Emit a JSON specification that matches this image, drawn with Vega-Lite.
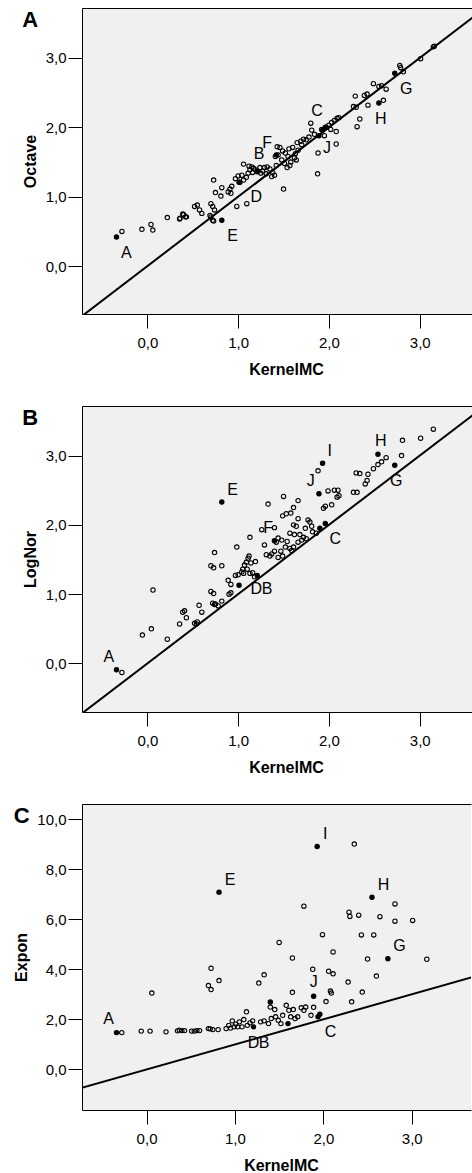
{
  "$schema": "https://vega.github.io/schema/vega-lite/v6.json",
  "padding": {"left": 13, "top": 8, "right": 0, "bottom": 0},
  "config": {
    "font": "Liberation Sans",
    "view": {"fill": "#f0f0f0", "stroke": null},
    "axis": {
      "grid": false,
      "domainColor": "#000000",
      "domainWidth": 1,
      "tickColor": "#000000",
      "tickWidth": 1,
      "tickSize": 14,
      "labelFont": "Liberation Sans",
      "labelFontSize": 15,
      "labelColor": "#000000",
      "titleFont": "Liberation Sans",
      "titleFontSize": 16,
      "titleFontWeight": "bold",
      "titleColor": "#000000",
      "labelExpr": "replace(format(datum.value, '.1f'), '.', ',')"
    },
    "title": {
      "anchor": "start",
      "frame": "bounds",
      "baseline": "top",
      "offset": -24,
      "fontSize": 22,
      "fontWeight": "bold",
      "font": "Liberation Sans",
      "color": "#000000"
    }
  },
  "datasets": {
    "diag": [{"k": -1.5, "v": -1.5}, {"k": 4.5, "v": 4.5}],
    "a": [
      {"k": -0.28, "v": 0.50, "kind": "O"}, {"k": -0.06, "v": 0.53, "kind": "O"}, {"k": 0.04, "v": 0.60, "kind": "O"},
      {"k": 0.06, "v": 0.52, "kind": "O"}, {"k": 0.22, "v": 0.70, "kind": "O"}, {"k": 0.355, "v": 0.68, "kind": "O"},
      {"k": 0.36, "v": 0.69, "kind": "O"}, {"k": 0.39, "v": 0.75, "kind": "O"}, {"k": 0.40, "v": 0.74, "kind": "O"},
      {"k": 0.42, "v": 0.71, "kind": "O"}, {"k": 0.43, "v": 0.71, "kind": "O"}, {"k": 0.52, "v": 0.86, "kind": "O"},
      {"k": 0.55, "v": 0.88, "kind": "O"}, {"k": 0.575, "v": 0.81, "kind": "O"}, {"k": 0.60, "v": 0.76, "kind": "O"},
      {"k": 0.70, "v": 0.90, "kind": "O"}, {"k": 0.72, "v": 0.86, "kind": "O"}, {"k": 0.74, "v": 0.81, "kind": "O"},
      {"k": 0.69, "v": 0.73, "kind": "O"}, {"k": 0.70, "v": 0.71, "kind": "O"}, {"k": 0.72, "v": 0.66, "kind": "O"},
      {"k": 0.73, "v": 0.65, "kind": "O"}, {"k": 0.73, "v": 1.24, "kind": "O"}, {"k": 0.75, "v": 1.06, "kind": "O"},
      {"k": 0.82, "v": 1.13, "kind": "O"}, {"k": 0.81, "v": 1.01, "kind": "O"}, {"k": 0.89, "v": 1.07, "kind": "O"},
      {"k": 0.91, "v": 1.11, "kind": "O"}, {"k": 0.93, "v": 1.15, "kind": "O"}, {"k": 0.92, "v": 1.05, "kind": "O"},
      {"k": 0.985, "v": 0.86, "kind": "O"}, {"k": 1.095, "v": 0.90, "kind": "O"}, {"k": 0.97, "v": 1.26, "kind": "O"},
      {"k": 1.00, "v": 1.30, "kind": "O"}, {"k": 1.04, "v": 1.31, "kind": "O"}, {"k": 1.06, "v": 1.47, "kind": "O"},
      {"k": 1.02, "v": 1.21, "kind": "O"}, {"k": 1.06, "v": 1.24, "kind": "O"}, {"k": 1.09, "v": 1.28, "kind": "O"},
      {"k": 1.11, "v": 1.34, "kind": "O"}, {"k": 1.13, "v": 1.39, "kind": "O"}, {"k": 1.12, "v": 1.44, "kind": "O"},
      {"k": 1.15, "v": 1.43, "kind": "O"}, {"k": 1.17, "v": 1.41, "kind": "O"}, {"k": 1.19, "v": 1.39, "kind": "O"},
      {"k": 1.21, "v": 1.36, "kind": "O"}, {"k": 1.16, "v": 1.35, "kind": "O"}, {"k": 1.24, "v": 1.42, "kind": "O"},
      {"k": 1.27, "v": 1.37, "kind": "O"}, {"k": 1.29, "v": 1.42, "kind": "O"}, {"k": 1.32, "v": 1.43, "kind": "O"},
      {"k": 1.35, "v": 1.40, "kind": "O"}, {"k": 1.38, "v": 1.35, "kind": "O"}, {"k": 1.40, "v": 1.31, "kind": "O"},
      {"k": 1.37, "v": 1.29, "kind": "O"}, {"k": 1.31, "v": 1.33, "kind": "O"}, {"k": 1.25, "v": 1.34, "kind": "O"},
      {"k": 1.42, "v": 1.45, "kind": "O"}, {"k": 1.50, "v": 1.11, "kind": "O"}, {"k": 1.43, "v": 1.72, "kind": "O"},
      {"k": 1.46, "v": 1.71, "kind": "O"}, {"k": 1.49, "v": 1.66, "kind": "O"}, {"k": 1.44, "v": 1.60, "kind": "O"},
      {"k": 1.52, "v": 1.63, "kind": "O"}, {"k": 1.56, "v": 1.69, "kind": "O"}, {"k": 1.60, "v": 1.71, "kind": "O"},
      {"k": 1.55, "v": 1.58, "kind": "O"}, {"k": 1.62, "v": 1.56, "kind": "O"}, {"k": 1.58, "v": 1.50, "kind": "O"},
      {"k": 1.64, "v": 1.53, "kind": "O"}, {"k": 1.54, "v": 1.42, "kind": "O"}, {"k": 1.57, "v": 1.45, "kind": "O"},
      {"k": 1.48, "v": 1.53, "kind": "O"}, {"k": 1.41, "v": 1.58, "kind": "O"}, {"k": 1.51, "v": 1.48, "kind": "O"},
      {"k": 1.66, "v": 1.67, "kind": "O"}, {"k": 1.63, "v": 1.62, "kind": "O"}, {"k": 1.65, "v": 1.78, "kind": "O"},
      {"k": 1.69, "v": 1.80, "kind": "O"}, {"k": 1.72, "v": 1.83, "kind": "O"}, {"k": 1.75, "v": 1.82, "kind": "O"},
      {"k": 1.78, "v": 1.86, "kind": "O"}, {"k": 1.70, "v": 1.75, "kind": "O"}, {"k": 1.84, "v": 1.90, "kind": "O"},
      {"k": 1.92, "v": 1.97, "kind": "O"}, {"k": 1.97, "v": 2.00, "kind": "O"}, {"k": 2.00, "v": 2.03, "kind": "O"},
      {"k": 2.03, "v": 2.07, "kind": "O"}, {"k": 2.06, "v": 2.10, "kind": "O"}, {"k": 2.09, "v": 2.13, "kind": "O"},
      {"k": 2.11, "v": 2.14, "kind": "O"}, {"k": 2.02, "v": 1.97, "kind": "O"}, {"k": 1.95, "v": 1.88, "kind": "O"},
      {"k": 1.875, "v": 1.33, "kind": "O"}, {"k": 1.88, "v": 1.63, "kind": "O"}, {"k": 1.80, "v": 2.06, "kind": "O"},
      {"k": 1.81, "v": 1.96, "kind": "O"}, {"k": 2.08, "v": 1.94, "kind": "O"}, {"k": 2.08, "v": 1.76, "kind": "O"},
      {"k": 2.29, "v": 2.45, "kind": "O"}, {"k": 2.27, "v": 2.30, "kind": "O"}, {"k": 2.30, "v": 2.29, "kind": "O"},
      {"k": 2.31, "v": 2.01, "kind": "O"}, {"k": 2.34, "v": 2.12, "kind": "O"}, {"k": 2.43, "v": 2.32, "kind": "O"},
      {"k": 2.39, "v": 2.46, "kind": "O"}, {"k": 2.42, "v": 2.48, "kind": "O"}, {"k": 2.49, "v": 2.63, "kind": "O"},
      {"k": 2.55, "v": 2.59, "kind": "O"}, {"k": 2.58, "v": 2.60, "kind": "O"}, {"k": 2.63, "v": 2.55, "kind": "O"},
      {"k": 2.60, "v": 2.39, "kind": "O"}, {"k": 2.78, "v": 2.89, "kind": "O"}, {"k": 2.79, "v": 2.86, "kind": "O"},
      {"k": 2.82, "v": 2.80, "kind": "O"}, {"k": 3.01, "v": 2.99, "kind": "O"}, {"k": 3.15, "v": 3.16, "kind": "O"},
      {"k": 3.16, "v": 3.17, "kind": "O"},
      {"k": -0.34, "v": 0.42, "kind": "L"}, {"k": 0.82, "v": 0.66, "kind": "L"}, {"k": 2.55, "v": 2.35, "kind": "L"},
      {"k": 2.725, "v": 2.78, "kind": "L"}, {"k": 1.01, "v": 1.21, "kind": "L"}, {"k": 1.21, "v": 1.37, "kind": "L"},
      {"k": 1.42, "v": 1.60, "kind": "L"}, {"k": 1.96, "v": 2.00, "kind": "L"}, {"k": 1.93, "v": 1.96, "kind": "L"},
      {"k": 1.89, "v": 1.88, "kind": "L"}
    ],
    "b": [
      {"k": -0.28, "v": -0.13, "kind": "O"}, {"k": -0.055, "v": 0.41, "kind": "O"}, {"k": 0.044, "v": 0.50, "kind": "O"},
      {"k": 0.062, "v": 1.06, "kind": "O"}, {"k": 0.22, "v": 0.35, "kind": "O"}, {"k": 0.355, "v": 0.57, "kind": "O"},
      {"k": 0.39, "v": 0.74, "kind": "O"}, {"k": 0.41, "v": 0.76, "kind": "O"}, {"k": 0.43, "v": 0.66, "kind": "O"},
      {"k": 0.52, "v": 0.58, "kind": "O"}, {"k": 0.55, "v": 0.60, "kind": "O"}, {"k": 0.54, "v": 0.57, "kind": "O"},
      {"k": 0.57, "v": 0.84, "kind": "O"}, {"k": 0.60, "v": 0.74, "kind": "O"}, {"k": 0.70, "v": 1.04, "kind": "O"},
      {"k": 0.73, "v": 1.01, "kind": "O"}, {"k": 0.70, "v": 1.41, "kind": "O"}, {"k": 0.73, "v": 1.38, "kind": "O"},
      {"k": 0.74, "v": 1.60, "kind": "O"}, {"k": 0.72, "v": 0.87, "kind": "O"}, {"k": 0.75, "v": 0.86, "kind": "O"},
      {"k": 0.78, "v": 0.83, "kind": "O"}, {"k": 0.82, "v": 0.90, "kind": "O"}, {"k": 0.74, "v": 0.85, "kind": "O"},
      {"k": 0.82, "v": 1.41, "kind": "O"}, {"k": 0.89, "v": 1.20, "kind": "O"}, {"k": 0.92, "v": 1.14, "kind": "O"},
      {"k": 0.90, "v": 1.00, "kind": "O"}, {"k": 0.92, "v": 1.02, "kind": "O"}, {"k": 0.985, "v": 1.68, "kind": "O"},
      {"k": 0.97, "v": 1.27, "kind": "O"}, {"k": 1.00, "v": 1.28, "kind": "O"}, {"k": 1.04, "v": 1.32, "kind": "O"},
      {"k": 1.05, "v": 1.36, "kind": "O"}, {"k": 1.07, "v": 1.42, "kind": "O"}, {"k": 1.09, "v": 1.46, "kind": "O"},
      {"k": 1.11, "v": 1.52, "kind": "O"}, {"k": 1.14, "v": 1.45, "kind": "O"}, {"k": 1.16, "v": 1.31, "kind": "O"},
      {"k": 1.18, "v": 1.25, "kind": "O"}, {"k": 1.13, "v": 1.30, "kind": "O"}, {"k": 1.06, "v": 1.30, "kind": "O"},
      {"k": 1.10, "v": 1.36, "kind": "O"}, {"k": 1.12, "v": 1.55, "kind": "O"}, {"k": 1.13, "v": 1.82, "kind": "O"},
      {"k": 1.19, "v": 1.47, "kind": "O"}, {"k": 1.29, "v": 1.71, "kind": "O"}, {"k": 1.26, "v": 1.93, "kind": "O"},
      {"k": 1.33, "v": 2.30, "kind": "O"}, {"k": 1.31, "v": 1.57, "kind": "O"}, {"k": 1.37, "v": 1.58, "kind": "O"},
      {"k": 1.40, "v": 1.62, "kind": "O"}, {"k": 1.44, "v": 1.53, "kind": "O"}, {"k": 1.49, "v": 1.55, "kind": "O"},
      {"k": 1.47, "v": 1.62, "kind": "O"}, {"k": 1.44, "v": 1.81, "kind": "O"}, {"k": 1.48, "v": 1.78, "kind": "O"},
      {"k": 1.54, "v": 1.76, "kind": "O"}, {"k": 1.52, "v": 1.68, "kind": "O"}, {"k": 1.57, "v": 1.66, "kind": "O"},
      {"k": 1.61, "v": 1.68, "kind": "O"}, {"k": 1.59, "v": 1.63, "kind": "O"}, {"k": 1.42, "v": 1.75, "kind": "O"},
      {"k": 1.35, "v": 1.55, "kind": "O"}, {"k": 1.40, "v": 1.96, "kind": "O"}, {"k": 1.50, "v": 2.41, "kind": "O"},
      {"k": 1.49, "v": 2.13, "kind": "O"}, {"k": 1.53, "v": 2.16, "kind": "O"}, {"k": 1.58, "v": 2.17, "kind": "O"},
      {"k": 1.61, "v": 2.25, "kind": "O"}, {"k": 1.66, "v": 2.35, "kind": "O"}, {"k": 1.61, "v": 2.00, "kind": "O"},
      {"k": 1.64, "v": 1.98, "kind": "O"}, {"k": 1.66, "v": 2.09, "kind": "O"}, {"k": 1.57, "v": 1.88, "kind": "O"},
      {"k": 1.62, "v": 1.86, "kind": "O"}, {"k": 1.68, "v": 1.86, "kind": "O"}, {"k": 1.72, "v": 1.82, "kind": "O"},
      {"k": 1.66, "v": 1.75, "kind": "O"}, {"k": 1.70, "v": 1.78, "kind": "O"}, {"k": 1.74, "v": 1.95, "kind": "O"},
      {"k": 1.77, "v": 2.07, "kind": "O"}, {"k": 1.79, "v": 2.04, "kind": "O"}, {"k": 1.81, "v": 1.98, "kind": "O"},
      {"k": 1.82, "v": 1.90, "kind": "O"}, {"k": 1.75, "v": 1.80, "kind": "O"}, {"k": 1.88, "v": 2.78, "kind": "O"},
      {"k": 1.94, "v": 2.24, "kind": "O"}, {"k": 1.96, "v": 2.27, "kind": "O"}, {"k": 1.99, "v": 2.49, "kind": "O"},
      {"k": 2.03, "v": 2.29, "kind": "O"}, {"k": 2.06, "v": 2.50, "kind": "O"}, {"k": 2.10, "v": 2.50, "kind": "O"},
      {"k": 2.09, "v": 2.40, "kind": "O"}, {"k": 2.11, "v": 2.42, "kind": "O"}, {"k": 1.86, "v": 1.88, "kind": "O"},
      {"k": 2.27, "v": 2.47, "kind": "O"}, {"k": 2.31, "v": 2.47, "kind": "O"}, {"k": 2.30, "v": 2.75, "kind": "O"},
      {"k": 2.34, "v": 2.74, "kind": "O"}, {"k": 2.40, "v": 2.59, "kind": "O"}, {"k": 2.42, "v": 2.64, "kind": "O"},
      {"k": 2.43, "v": 2.73, "kind": "O"}, {"k": 2.49, "v": 2.81, "kind": "O"}, {"k": 2.54, "v": 2.87, "kind": "O"},
      {"k": 2.58, "v": 2.91, "kind": "O"}, {"k": 2.63, "v": 2.97, "kind": "O"}, {"k": 2.80, "v": 3.00, "kind": "O"},
      {"k": 2.81, "v": 3.22, "kind": "O"}, {"k": 3.01, "v": 3.25, "kind": "O"}, {"k": 3.15, "v": 3.38, "kind": "O"},
      {"k": -0.34, "v": -0.09, "kind": "L"}, {"k": 0.82, "v": 2.33, "kind": "L"}, {"k": 1.01, "v": 1.13, "kind": "L"},
      {"k": 1.21, "v": 1.27, "kind": "L"}, {"k": 1.40, "v": 1.77, "kind": "L"}, {"k": 1.96, "v": 2.02, "kind": "L"},
      {"k": 1.90, "v": 1.95, "kind": "L"}, {"k": 1.93, "v": 2.89, "kind": "L"}, {"k": 1.89, "v": 2.45, "kind": "L"},
      {"k": 2.54, "v": 3.02, "kind": "L"}, {"k": 2.725, "v": 2.86, "kind": "L"}
    ],
    "c": [
      {"k": -0.28, "v": 1.47, "kind": "O"}, {"k": -0.06, "v": 1.53, "kind": "O"}, {"k": 0.04, "v": 1.53, "kind": "O"},
      {"k": 0.06, "v": 3.05, "kind": "O"}, {"k": 0.22, "v": 1.50, "kind": "O"}, {"k": 0.35, "v": 1.54, "kind": "O"},
      {"k": 0.37, "v": 1.57, "kind": "O"}, {"k": 0.40, "v": 1.55, "kind": "O"}, {"k": 0.43, "v": 1.55, "kind": "O"},
      {"k": 0.51, "v": 1.53, "kind": "O"}, {"k": 0.54, "v": 1.53, "kind": "O"}, {"k": 0.57, "v": 1.55, "kind": "O"},
      {"k": 0.60, "v": 1.55, "kind": "O"}, {"k": 0.70, "v": 3.35, "kind": "O"}, {"k": 0.73, "v": 3.19, "kind": "O"},
      {"k": 0.73, "v": 4.04, "kind": "O"}, {"k": 0.82, "v": 3.55, "kind": "O"}, {"k": 0.70, "v": 1.63, "kind": "O"},
      {"k": 0.72, "v": 1.62, "kind": "O"}, {"k": 0.75, "v": 1.59, "kind": "O"}, {"k": 0.81, "v": 1.59, "kind": "O"},
      {"k": 0.90, "v": 1.63, "kind": "O"}, {"k": 0.93, "v": 1.76, "kind": "O"}, {"k": 0.97, "v": 1.94, "kind": "O"},
      {"k": 0.99, "v": 1.70, "kind": "O"}, {"k": 1.01, "v": 1.81, "kind": "O"}, {"k": 1.05, "v": 1.90, "kind": "O"},
      {"k": 1.08, "v": 1.70, "kind": "O"}, {"k": 1.10, "v": 1.99, "kind": "O"}, {"k": 1.13, "v": 2.30, "kind": "O"},
      {"k": 1.14, "v": 1.76, "kind": "O"}, {"k": 1.17, "v": 1.86, "kind": "O"}, {"k": 1.20, "v": 1.94, "kind": "O"},
      {"k": 0.95, "v": 1.65, "kind": "O"}, {"k": 1.03, "v": 1.70, "kind": "O"}, {"k": 1.27, "v": 3.45, "kind": "O"},
      {"k": 1.33, "v": 3.78, "kind": "O"}, {"k": 1.29, "v": 1.90, "kind": "O"}, {"k": 1.33, "v": 1.94, "kind": "O"},
      {"k": 1.38, "v": 1.83, "kind": "O"}, {"k": 1.41, "v": 2.03, "kind": "O"}, {"k": 1.40, "v": 2.49, "kind": "O"},
      {"k": 1.45, "v": 2.39, "kind": "O"}, {"k": 1.46, "v": 2.10, "kind": "O"}, {"k": 1.49, "v": 1.96, "kind": "O"},
      {"k": 1.52, "v": 1.83, "kind": "O"}, {"k": 1.54, "v": 2.16, "kind": "O"}, {"k": 1.58, "v": 2.56, "kind": "O"},
      {"k": 1.61, "v": 2.36, "kind": "O"}, {"k": 1.63, "v": 2.10, "kind": "O"}, {"k": 1.66, "v": 2.39, "kind": "O"},
      {"k": 1.68, "v": 2.03, "kind": "O"}, {"k": 1.71, "v": 2.10, "kind": "O"}, {"k": 1.75, "v": 2.46, "kind": "O"},
      {"k": 1.78, "v": 2.36, "kind": "O"}, {"k": 1.80, "v": 2.49, "kind": "O"}, {"k": 1.86, "v": 2.16, "kind": "O"},
      {"k": 1.50, "v": 5.07, "kind": "O"}, {"k": 1.65, "v": 4.45, "kind": "O"}, {"k": 1.65, "v": 3.08, "kind": "O"},
      {"k": 1.78, "v": 6.52, "kind": "O"}, {"k": 1.88, "v": 4.00, "kind": "O"}, {"k": 1.89, "v": 2.48, "kind": "O"},
      {"k": 1.99, "v": 5.38, "kind": "O"}, {"k": 2.03, "v": 2.71, "kind": "O"}, {"k": 2.06, "v": 3.92, "kind": "O"},
      {"k": 2.11, "v": 3.82, "kind": "O"}, {"k": 2.11, "v": 4.69, "kind": "O"}, {"k": 2.08, "v": 3.13, "kind": "O"},
      {"k": 2.09, "v": 3.05, "kind": "O"}, {"k": 2.28, "v": 3.49, "kind": "O"}, {"k": 2.29, "v": 6.28, "kind": "O"},
      {"k": 2.30, "v": 6.11, "kind": "O"}, {"k": 2.35, "v": 9.00, "kind": "O"}, {"k": 2.40, "v": 6.16, "kind": "O"},
      {"k": 2.32, "v": 2.70, "kind": "O"}, {"k": 2.43, "v": 5.37, "kind": "O"}, {"k": 2.44, "v": 3.09, "kind": "O"},
      {"k": 2.50, "v": 4.41, "kind": "O"}, {"k": 2.57, "v": 5.37, "kind": "O"}, {"k": 2.60, "v": 3.73, "kind": "O"},
      {"k": 2.64, "v": 6.10, "kind": "O"}, {"k": 2.81, "v": 5.92, "kind": "O"}, {"k": 2.81, "v": 6.61, "kind": "O"},
      {"k": 3.01, "v": 5.95, "kind": "O"}, {"k": 3.17, "v": 4.40, "kind": "O"},
      {"k": -0.34, "v": 1.47, "kind": "L"}, {"k": 0.82, "v": 7.08, "kind": "L"}, {"k": 1.93, "v": 8.90, "kind": "L"},
      {"k": 2.55, "v": 6.88, "kind": "L"}, {"k": 2.73, "v": 4.42, "kind": "L"}, {"k": 1.89, "v": 2.92, "kind": "L"},
      {"k": 1.94, "v": 2.10, "kind": "L"}, {"k": 1.96, "v": 2.20, "kind": "L"}, {"k": 1.40, "v": 2.69, "kind": "L"},
      {"k": 1.21, "v": 1.70, "kind": "L"}, {"k": 1.60, "v": 1.83, "kind": "L"}
    ],
    "labs": [
      {"panel": "A", "label": "A", "k": -0.233, "v": 0.19}, {"panel": "A", "label": "E", "k": 0.94, "v": 0.43},
      {"panel": "A", "label": "D", "k": 1.20, "v": 1.00}, {"panel": "A", "label": "B", "k": 1.23, "v": 1.61},
      {"panel": "A", "label": "F", "k": 1.32, "v": 1.77}, {"panel": "A", "label": "C", "k": 1.87, "v": 2.23},
      {"panel": "A", "label": "J", "k": 1.98, "v": 1.70}, {"panel": "A", "label": "H", "k": 2.57, "v": 2.12},
      {"panel": "A", "label": "G", "k": 2.85, "v": 2.55},
      {"panel": "B", "label": "A", "k": -0.425, "v": 0.10}, {"panel": "B", "label": "E", "k": 0.94, "v": 2.51},
      {"panel": "B", "label": "I", "k": 2.01, "v": 3.07}, {"panel": "B", "label": "H", "k": 2.57, "v": 3.21},
      {"panel": "B", "label": "J", "k": 1.80, "v": 2.64}, {"panel": "B", "label": "F", "k": 1.33, "v": 1.96},
      {"panel": "B", "label": "C", "k": 2.07, "v": 1.79}, {"panel": "B", "label": "G", "k": 2.74, "v": 2.64},
      {"panel": "B", "label": "D", "k": 1.20, "v": 1.07}, {"panel": "B", "label": "B", "k": 1.32, "v": 1.07},
      {"panel": "C", "label": "A", "k": -0.43, "v": 2.00}, {"panel": "C", "label": "E", "k": 0.945, "v": 7.58},
      {"panel": "C", "label": "I", "k": 2.02, "v": 9.42}, {"panel": "C", "label": "H", "k": 2.68, "v": 7.38},
      {"panel": "C", "label": "G", "k": 2.86, "v": 4.92}, {"panel": "C", "label": "J", "k": 1.89, "v": 3.48},
      {"panel": "C", "label": "C", "k": 2.08, "v": 1.51}, {"panel": "C", "label": "D", "k": 1.21, "v": 1.05},
      {"panel": "C", "label": "B", "k": 1.33, "v": 1.05}
    ]
  },
  "concat": [
    {
      "width": 399,
      "height": 306,
      "title": {"text": "A"},
      "encoding": {
        "y": {"field": "v", "type": "quantitative", "scale": {"domain": [-0.69, 3.72], "nice": false, "zero": false},
              "axis": {"values": [0, 1, 2, 3], "title": "Octave", "labelPadding": 2, "titlePadding": 7}}
      },
      "layer": [
        {
          "data": {"name": "diag"},
          "mark": {"type": "line", "color": "#000000", "strokeWidth": 2, "clip": true},
          "encoding": {
            "x": {"field": "k", "type": "quantitative", "scale": {"domain": [-0.72, 3.675], "nice": false, "zero": false},
                  "axis": {"orient": "top", "labels": false, "ticks": false, "title": null}}
          }
        },
        {
          "data": {"name": "a"},
          "mark": {"type": "point", "shape": "circle", "size": 19, "stroke": "#000000", "strokeWidth": 1.1, "filled": true, "opacity": 1},
          "encoding": {
            "x": {"field": "k", "type": "quantitative", "scale": {"domain": [-0.72, 3.675], "nice": false, "zero": false},
                  "axis": {"orient": "bottom", "values": [0, 1, 2, 3], "title": "KernelMC", "labelPadding": 7, "titlePadding": 11, "titleX": 204}},
            "fill": {"condition": {"test": "datum.kind === 'L'", "value": "#000000"}, "value": "transparent"}
          }
        },
        {
          "data": {"name": "labs"},
          "transform": [{"filter": "datum.panel === 'A'"}],
          "mark": {"type": "text", "fontSize": 16, "font": "Liberation Sans", "align": "center", "baseline": "middle", "color": "#000000"},
          "encoding": {
            "x": {"field": "k", "type": "quantitative", "scale": {"domain": [-0.72, 3.675], "nice": false, "zero": false}, "axis": null},
            "text": {"field": "label"}
          }
        }
      ],
      "resolve": {"axis": {"x": "independent"}}
    },
    {
      "width": 399,
      "height": 306,
      "title": {"text": "B"},
      "encoding": {
        "y": {"field": "v", "type": "quantitative", "scale": {"domain": [-0.70, 3.715], "nice": false, "zero": false},
              "axis": {"values": [0, 1, 2, 3], "title": "LogNor", "labelPadding": 2, "titlePadding": 7}}
      },
      "layer": [
        {
          "data": {"name": "diag"},
          "mark": {"type": "line", "color": "#000000", "strokeWidth": 2, "clip": true},
          "encoding": {
            "x": {"field": "k", "type": "quantitative", "scale": {"domain": [-0.72, 3.675], "nice": false, "zero": false},
                  "axis": {"orient": "top", "labels": false, "ticks": false, "title": null}}
          }
        },
        {
          "data": {"name": "b"},
          "mark": {"type": "point", "shape": "circle", "size": 19, "stroke": "#000000", "strokeWidth": 1.1, "filled": true, "opacity": 1},
          "encoding": {
            "x": {"field": "k", "type": "quantitative", "scale": {"domain": [-0.72, 3.675], "nice": false, "zero": false},
                  "axis": {"orient": "bottom", "values": [0, 1, 2, 3], "title": "KernelMC", "labelPadding": 7, "titlePadding": 11, "titleX": 204}},
            "fill": {"condition": {"test": "datum.kind === 'L'", "value": "#000000"}, "value": "transparent"}
          }
        },
        {
          "data": {"name": "labs"},
          "transform": [{"filter": "datum.panel === 'B'"}],
          "mark": {"type": "text", "fontSize": 16, "font": "Liberation Sans", "align": "center", "baseline": "middle", "color": "#000000"},
          "encoding": {
            "x": {"field": "k", "type": "quantitative", "scale": {"domain": [-0.72, 3.675], "nice": false, "zero": false}, "axis": null},
            "text": {"field": "label"},
            "fontWeight": {"condition": {"test": "datum.label === 'G' || datum.label === 'D'", "value": "bold"}, "value": "normal"}
          }
        }
      ],
      "resolve": {"axis": {"x": "independent"}}
    },
    {
      "width": 389,
      "height": 306,
      "title": {"text": "C"},
      "encoding": {
        "y": {"field": "v", "type": "quantitative", "scale": {"domain": [-1.62, 10.6], "nice": false, "zero": false},
              "axis": {"values": [0, 2, 4, 6, 8, 10], "title": "Expon", "labelPadding": 2, "titlePadding": 7}}
      },
      "layer": [
        {
          "data": {"name": "diag"},
          "mark": {"type": "line", "color": "#000000", "strokeWidth": 2, "clip": true},
          "encoding": {
            "x": {"field": "k", "type": "quantitative", "scale": {"domain": [-0.73, 3.67], "nice": false, "zero": false},
                  "axis": {"orient": "top", "labels": false, "ticks": false, "title": null}}
          }
        },
        {
          "data": {"name": "c"},
          "mark": {"type": "point", "shape": "circle", "size": 19, "stroke": "#000000", "strokeWidth": 1.1, "filled": true, "opacity": 1},
          "encoding": {
            "x": {"field": "k", "type": "quantitative", "scale": {"domain": [-0.73, 3.67], "nice": false, "zero": false},
                  "axis": {"orient": "bottom", "values": [0, 1, 2, 3], "title": "KernelMC", "labelPadding": 7, "titlePadding": 11, "titleX": 199}},
            "fill": {"condition": {"test": "datum.kind === 'L'", "value": "#000000"}, "value": "transparent"}
          }
        },
        {
          "data": {"name": "labs"},
          "transform": [{"filter": "datum.panel === 'C'"}],
          "mark": {"type": "text", "fontSize": 16, "font": "Liberation Sans", "align": "center", "baseline": "middle", "color": "#000000"},
          "encoding": {
            "x": {"field": "k", "type": "quantitative", "scale": {"domain": [-0.73, 3.67], "nice": false, "zero": false}, "axis": null},
            "text": {"field": "label"},
            "fontWeight": {"condition": {"test": "datum.label === 'D' || datum.label === 'B'", "value": "bold"}, "value": "normal"}
          }
        }
      ],
      "resolve": {"axis": {"x": "independent"}}
    }
  ],
  "columns": 1,
  "align": "none",
  "spacing": 29
}
